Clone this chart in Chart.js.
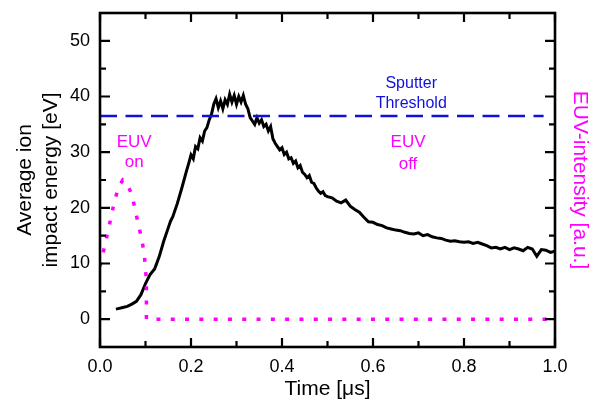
<!DOCTYPE html>
<html>
<head>
<meta charset="utf-8">
<script src="https://cdn.jsdelivr.net/npm/chart.js@4.4.1/dist/chart.umd.min.js"></script>
<style>
  html, body { margin: 0; padding: 0; background: #fff; }
  #wrap { width: 592px; height: 401px; }
</style>
</head>
<body>
<div id="wrap"><canvas id="energy-chart" width="592" height="401"></canvas></div>
<script>
// ion impact energy vs time (black trace)
const timeUs = [
  0.035, 0.04, 0.05, 0.06, 0.07, 0.08, 0.09, 0.10, 0.11, 0.12, 0.13, 0.14, 0.15, 0.155, 0.16, 0.17, 0.18, 0.19, 0.195,
  0.200, 0.205, 0.210, 0.215, 0.220, 0.225, 0.230, 0.235, 0.240, 0.245, 0.250, 0.255, 0.260, 0.265, 0.270, 0.275,
  0.280, 0.285, 0.290, 0.295, 0.300, 0.305, 0.310, 0.315, 0.320, 0.325, 0.330, 0.335, 0.340, 0.345, 0.350, 0.355,
  0.360, 0.365, 0.370, 0.375, 0.380, 0.385, 0.390, 0.395, 0.400, 0.405, 0.410, 0.415, 0.420, 0.425, 0.430, 0.435,
  0.440, 0.445, 0.450, 0.455, 0.460, 0.465, 0.470, 0.475, 0.480, 0.485, 0.490, 0.495, 0.500,
  0.51, 0.52, 0.53, 0.54, 0.55, 0.56, 0.57, 0.58, 0.59, 0.60, 0.61, 0.62, 0.63, 0.64, 0.65, 0.66, 0.67, 0.68, 0.69,
  0.70, 0.71, 0.72, 0.73, 0.74, 0.75, 0.76, 0.77, 0.78, 0.79, 0.80, 0.81, 0.82, 0.83, 0.84, 0.85, 0.86, 0.87, 0.88,
  0.89, 0.90, 0.91, 0.92, 0.93, 0.94, 0.95, 0.96, 0.97, 0.98, 0.99, 1.00
];
const energyEv = [
  1.8, 1.9, 2.1, 2.3, 2.7, 3.2, 4.4, 6.4, 8.0, 9.0, 11.2, 14.0, 16.4, 17.6, 18.4, 20.8, 23.6, 26.6, 28.0,
  29.5, 28.8, 31.0, 30.6, 32.6, 32.0, 33.8, 34.4, 35.8, 36.8, 38.6, 39.6, 38.0, 39.2, 37.8, 39.4,
  38.6, 40.4, 39.0, 40.2, 38.6, 40.0, 39.0, 40.2, 38.6, 37.8, 36.2, 35.6, 35.0, 36.2, 35.2, 35.8,
  34.6, 35.0, 33.8, 34.6, 32.4, 31.6, 31.0, 30.4, 30.8, 29.6, 30.0, 28.8, 29.0, 28.0, 28.4, 27.2,
  27.6, 26.4, 26.0, 25.4, 25.8, 24.6, 24.4, 23.6, 23.0, 22.6, 22.9, 22.2, 22.0,
  21.8, 21.2, 20.9, 21.4, 20.3, 19.7, 19.2, 18.3, 17.5, 17.4, 17.0, 16.8, 16.4, 16.2, 16.0, 15.9, 15.6, 15.4, 15.3,
  15.5, 15.0, 15.2, 14.8, 14.6, 14.5, 14.2, 14.0, 14.1, 13.9, 13.8, 13.9, 13.6, 13.8, 13.5, 13.2, 12.8, 12.9, 12.6,
  12.9, 12.5, 12.8, 12.6, 12.3, 12.9, 12.6, 11.3, 12.5, 12.4, 12.0, 12.2
];

// EUV pulse (magenta dots, right axis)
const euvTime = [0.0, 0.01, 0.02, 0.03, 0.04, 0.05, 0.06, 0.07, 0.08, 0.09, 0.097, 0.102, 0.102, 1.0];
const euvIntensity = [9.5, 13.0, 16.7, 20.5, 23.6, 25.0, 24.2, 22.4, 18.6, 15.0, 12.0, 7.0, 0.0, 0.0];

// sputter threshold
const thresholdTime = [0.0, 0.975];
const thresholdEv = [36.5, 36.5];

const yTicks = [0, 10, 20, 30, 40, 50];
const xTicks = [0.0, 0.2, 0.4, 0.6, 0.8, 1.0];

const FONT = 'Arial, "Liberation Sans", sans-serif';
const MAGENTA = '#ff00ff';
const BLUE = '#1010dd';

function pairs(xs, ys) {
  return xs.map((x, i) => ({ x: x, y: ys[i] }));
}

// y scales: fixed width, no extra room for edge labels
function fixY(width) {
  return (s) => {
    s.width = width;
    s.paddingTop = 0;
    s.paddingBottom = 0;
  };
}

// frame with inward ticks plus the text notes
const framePlugin = {
  id: 'frame',
  afterDatasetsDraw(chart) {
    const ctx = chart.ctx;
    const a = chart.chartArea;
    const sx = chart.scales.x;
    const sy = chart.scales.y;
    ctx.save();
    ctx.strokeStyle = '#000';
    ctx.lineWidth = 2.6;
    ctx.strokeRect(a.left, a.top, a.right - a.left, a.bottom - a.top);
    ctx.lineWidth = 2.2;
    for (let i = 0; i <= 10; i++) {
      const px = sx.getPixelForValue(i / 10);
      const len = i % 2 === 0 ? 9 : 6;
      ctx.beginPath();
      ctx.moveTo(px, a.bottom); ctx.lineTo(px, a.bottom - len);
      ctx.moveTo(px, a.top); ctx.lineTo(px, a.top + len);
      ctx.stroke();
    }
    for (let v = 0; v <= 50; v += 5) {
      const py = sy.getPixelForValue(v);
      const len = v % 10 === 0 ? 10 : 6;
      ctx.beginPath();
      ctx.moveTo(a.left, py); ctx.lineTo(a.left + len, py);
      ctx.moveTo(a.right, py); ctx.lineTo(a.right - len, py);
      ctx.stroke();
    }

    ctx.textAlign = 'center';
    ctx.textBaseline = 'middle';
    const note = (txt, x, y, color, size) => {
      ctx.fillStyle = color;
      ctx.font = size + 'px ' + FONT;
      ctx.fillText(txt, sx.getPixelForValue(x), sy.getPixelForValue(y));
    };
    note('Sputter', 0.684, 42.4, BLUE, 16);
    note('Threshold', 0.684, 38.8, BLUE, 16);
    note('EUV', 0.677, 31.7, MAGENTA, 17);
    note('off', 0.677, 27.9, MAGENTA, 17);
    note('EUV', 0.075, 31.7, MAGENTA, 17);
    note('on', 0.075, 28.1, MAGENTA, 17);
    ctx.restore();
  }
};

const ctx = document.getElementById('energy-chart').getContext('2d');
new Chart(ctx, {
  type: 'line',
  data: {
    datasets: [
      {
        data: pairs(euvTime, euvIntensity),
        yAxisID: 'y2',
        borderColor: MAGENTA,
        borderWidth: 3.5,
        borderDash: [4, 10.3],
        pointRadius: 0,
        tension: 0
      },
      {
        data: pairs(thresholdTime, thresholdEv),
        borderColor: BLUE,
        borderWidth: 2.6,
        borderDash: [17, 8.5],
        pointRadius: 0
      },
      {
        data: pairs(timeUs, energyEv),
        borderColor: '#000',
        borderWidth: 3,
        pointRadius: 0,
        tension: 0
      }
    ]
  },
  options: {
    responsive: false,
    animation: false,
    layout: { padding: { top: 13, left: 0, right: 0, bottom: 0 } },
    plugins: {
      legend: { display: false },
      tooltip: { enabled: false }
    },
    scales: {
      x: {
        type: 'linear',
        min: 0,
        max: 1,
        afterFit: (s) => { s.height = 54; s.paddingLeft = 0; s.paddingRight = 0; },
        afterBuildTicks: (s) => { s.ticks = xTicks.map(v => ({ value: v })); },
        grid: { display: false, drawTicks: false },
        border: { display: false },
        ticks: {
          color: '#000',
          padding: 9,
          font: { family: FONT, size: 18 },
          callback: (v) => v.toFixed(1)
        },
        title: {
          display: true,
          text: 'Time [\u03bcs]',
          color: '#000',
          padding: 0,
          font: { family: FONT, size: 21, lineHeight: 1.1 }
        }
      },
      y: {
        position: 'left',
        min: -5,
        max: 55,
        afterFit: fixY(100),
        afterBuildTicks: (s) => { s.ticks = yTicks.map(v => ({ value: v })); },
        grid: { display: false, drawTicks: false },
        border: { display: false },
        ticks: {
          color: '#000',
          padding: 10,
          font: { family: FONT, size: 18 }
        },
        title: {
          display: true,
          text: ['Average ion', 'impact energy [eV]'],
          color: '#000',
          padding: { top: 12, bottom: 0 },
          font: { family: FONT, size: 21, lineHeight: 1.25 }
        }
      },
      y2: {
        position: 'right',
        min: -5,
        max: 55,
        afterFit: fixY(37),
        grid: { display: false, drawTicks: false },
        border: { display: false },
        ticks: { display: false },
        title: {
          display: true,
          text: 'EUV-intensity [a.u.]',
          color: MAGENTA,
          padding: 0,
          font: { family: FONT, size: 21, lineHeight: 1.2 }
        }
      }
    }
  },
  plugins: [framePlugin]
});
</script>
</body>
</html>
